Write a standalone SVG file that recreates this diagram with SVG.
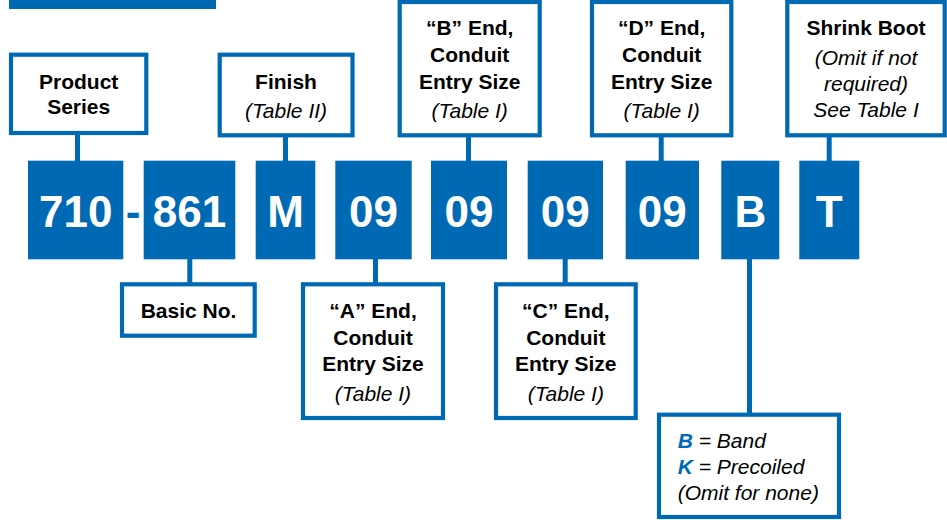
<svg xmlns="http://www.w3.org/2000/svg" width="947" height="520" viewBox="0 0 947 520">
<style>
  .lbl{fill:#fff;stroke:#0069b4;stroke-width:4.2}
  .code{fill:#0069b4}
  .ct{font-family:"Liberation Sans",Arial,sans-serif;font-weight:bold;font-size:44px;fill:#fff;text-anchor:middle}
  .t{font-family:"Liberation Sans",Arial,sans-serif;font-size:21px;fill:#000;text-anchor:middle}
  .b{font-weight:bold}
  .i{font-style:italic}
  .conn line{stroke:#0069b4;stroke-width:5}
</style>
<rect x="9" y="0" width="207" height="9" fill="#0069b4"/>
<g class="conn" id="connectors">
  <line x1="77.5" y1="134" x2="77.5" y2="162"/>
  <line x1="285.5" y1="136" x2="285.5" y2="162"/>
  <line x1="468.5" y1="136" x2="468.5" y2="162"/>
  <line x1="661.2" y1="136" x2="661.2" y2="162"/>
  <line x1="829.2" y1="136" x2="829.2" y2="162"/>
  <line x1="189.8" y1="258" x2="189.8" y2="284"/>
  <line x1="375.5" y1="258" x2="375.5" y2="284"/>
  <line x1="565.2" y1="258" x2="565.2" y2="284"/>
  <line x1="749.5" y1="258" x2="749.5" y2="414"/>
</g>
<g id="code-710"><rect class="code" x="28" y="160.7" width="95.3" height="98.6"/><text class="ct" x="75.7" y="227">710</text></g>
<g id="dash"><text class="ct" x="133" y="227" style="fill:#0069b4">-</text></g>
<g id="code-861"><rect class="code" x="143.7" y="160.7" width="91.6" height="98.6"/><text class="ct" x="189.5" y="227">861</text></g>
<g id="code-M"><rect class="code" x="255.7" y="160.7" width="59.6" height="98.6"/><text class="ct" x="285.5" y="227">M</text></g>
<g id="code-09a"><rect class="code" x="335.3" y="160.7" width="76.4" height="98.6"/><text class="ct" x="373.5" y="227">09</text></g>
<g id="code-09b"><rect class="code" x="431" y="160.7" width="76" height="98.6"/><text class="ct" x="469" y="227">09</text></g>
<g id="code-09c"><rect class="code" x="527.7" y="160.7" width="75.3" height="98.6"/><text class="ct" x="565.3" y="227">09</text></g>
<g id="code-09d"><rect class="code" x="625.7" y="160.7" width="73.3" height="98.6"/><text class="ct" x="662.3" y="227">09</text></g>
<g id="code-B"><rect class="code" x="721.3" y="160.7" width="58" height="98.6"/><text class="ct" x="750.3" y="227">B</text></g>
<g id="code-T"><rect class="code" x="799.3" y="160.7" width="60" height="98.6"/><text class="ct" x="829.3" y="227">T</text></g>

<g id="product-series"><rect class="lbl" x="11" y="54.7" width="135.3" height="78.3"/>
  <text class="t b" x="78.7" y="89.3">Product</text><text class="t b" x="78.7" y="114.3">Series</text></g>
<g id="finish"><rect class="lbl" x="219.7" y="54.7" width="132.8" height="80.6"/>
  <text class="t b" x="286" y="89.3">Finish</text><text class="t i" x="286" y="118">(Table II)</text></g>
<g id="b-end"><rect class="lbl" x="399.7" y="2" width="140" height="133.3"/>
  <text class="t b" x="469.7" y="35">“B” End,</text><text class="t b" x="469.7" y="61.7">Conduit</text><text class="t b" x="469.7" y="88.7">Entry Size</text><text class="t i" x="469.7" y="118">(Table I)</text></g>
<g id="d-end"><rect class="lbl" x="592" y="2" width="139.3" height="133.3"/>
  <text class="t b" x="661.7" y="35">“D” End,</text><text class="t b" x="661.7" y="61.7">Conduit</text><text class="t b" x="661.7" y="88.7">Entry Size</text><text class="t i" x="661.7" y="118">(Table I)</text></g>
<g id="shrink-boot"><rect class="lbl" x="787.3" y="2" width="157.4" height="133.3"/>
  <text class="t b" x="866" y="35">Shrink Boot</text><text class="t i" x="866" y="64.5">(Omit if not</text><text class="t i" x="866" y="90.7">required)</text><text class="t i" x="866" y="117.3">See Table I</text></g>
<g id="basic-no"><rect class="lbl" x="122" y="284.3" width="132.7" height="51.4"/>
  <text class="t b" x="188.5" y="317.7">Basic No.</text></g>
<g id="a-end"><rect class="lbl" x="303" y="284.3" width="140" height="133.7"/>
  <text class="t b" x="373" y="318.3">“A” End,</text><text class="t b" x="373" y="345">Conduit</text><text class="t b" x="373" y="370.7">Entry Size</text><text class="t i" x="373" y="400.7">(Table I)</text></g>
<g id="c-end"><rect class="lbl" x="496" y="284.3" width="139.7" height="133.7"/>
  <text class="t b" x="565.8" y="318.3">“C” End,</text><text class="t b" x="565.8" y="345">Conduit</text><text class="t b" x="565.8" y="370.7">Entry Size</text><text class="t i" x="565.8" y="400.7">(Table I)</text></g>
<g id="band-options"><rect class="lbl" x="659" y="414.7" width="180" height="102.3"/>
  <text class="t i" x="677.7" y="448.3" style="text-anchor:start"><tspan class="b" fill="#0069b4">B</tspan> = Band</text>
  <text class="t i" x="677.7" y="474" style="text-anchor:start"><tspan class="b" fill="#0069b4">K</tspan> = Precoiled</text>
  <text class="t i" x="677.7" y="500" style="text-anchor:start">(Omit for none)</text></g>
</svg>
